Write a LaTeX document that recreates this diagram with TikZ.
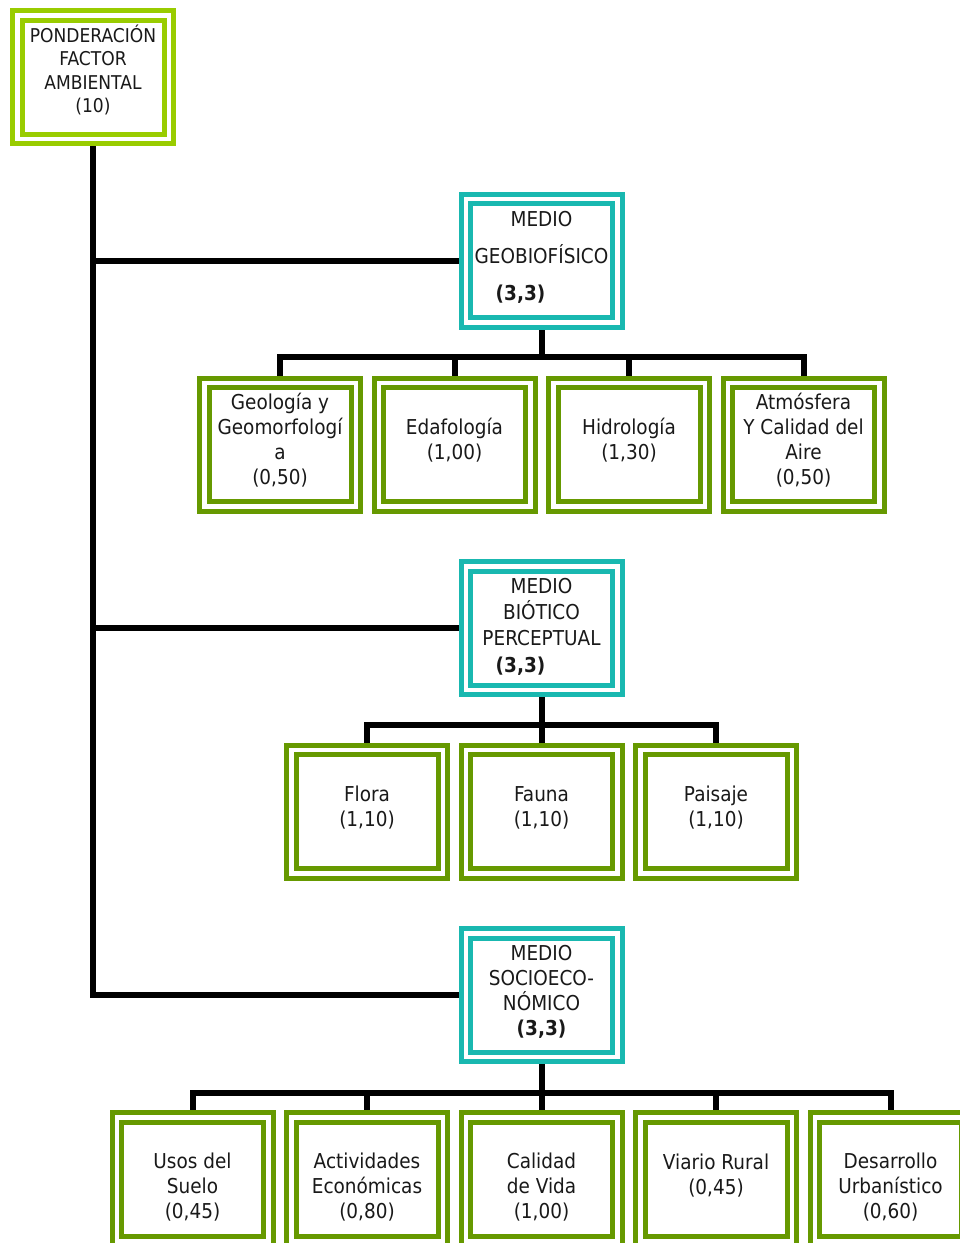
\documentclass[tikz,border=0pt]{standalone}
\usepackage{fontspec}
\setmainfont{DejaVu Sans}[FakeStretch=0.9]
\usetikzlibrary{backgrounds}
\definecolor{zzccqq}{rgb}{0.6,0.8,0.}
\definecolor{wwzzqq}{rgb}{0.4,0.6,0.}
\definecolor{rabybq}{rgb}{0.1,0.72,0.69}
\definecolor{rrrrrr}{rgb}{0.1,0.1,0.1}
\begin{document}
\begin{tikzpicture}[line join=miter,x=1pt,y=-1pt,
  caja/.style={draw=#1,fill=white,double=white,double distance=4.5pt,line width=5pt,minimum width=151.5pt,minimum height=123.5pt,inner sep=0pt},
  caja/.default=wwzzqq,
  texto/.style={align=center,inner sep=0pt,text=rrrrrr,font=\fontsize{20.5}{25}\selectfont},
  conector/.style={line width=6pt,color=black}]
\useasboundingbox (0,0) rectangle (960,1243);
% cajas
\node[caja=zzccqq] (ponderacion) at (93,77) {};
\node[caja=rabybq] (medioGeo) at (541.5,260.5) {};
\node[caja=rabybq] (medioBio) at (541.5,628) {};
\node[caja=rabybq] (medioSoc) at (541.5,995) {};
\node[caja] (geologia) at (280,444.5) {};
\node[caja] (edafologia) at (454.5,444.5) {};
\node[caja] (hidrologia) at (629,444.5) {};
\node[caja] (atmosfera) at (803.5,444.5) {};
\node[caja] (flora) at (367,811.5) {};
\node[caja] (fauna) at (541.5,811.5) {};
\node[caja] (paisaje) at (716,811.5) {};
\node[caja] (usos) at (192.5,1179) {};
\node[caja] (actividades) at (367,1179) {};
\node[caja] (calidad) at (541.5,1179) {};
\node[caja] (viario) at (716,1179) {};
\node[caja] (desarrollo) at (890.5,1179) {};
% textos
\node[texto,font=\fontsize{19}{23.3}\selectfont] (tPonderacion) at (93,70) {PONDERACIÓN\\FACTOR\\AMBIENTAL\\(10)};
\node[texto,font=\fontsize{20.5}{37}\selectfont] (tMedioGeo) at (541.5,257) {MEDIO\\GEOBIOFÍSICO\\\hspace*{-42pt}\textbf{(3,3)}};
\node[texto,font=\fontsize{20.5}{26.3}\selectfont] (tMedioBio) at (541.5,626.5) {MEDIO\\BIÓTICO\\PERCEPTUAL\\\hspace*{-42pt}\textbf{(3,3)}};
\node[texto] (tMedioSoc) at (541.5,991.5) {MEDIO\\SOCIOECO-\\NÓMICO\\\textbf{(3,3)}};
\node[texto] (tGeologia) at (280,440.5) {Geología y\\Geomorfologí\\a\\(0,50)};
\node[texto] (tEdafologia) at (454.5,440.5) {Edafología\\(1,00)};
\node[texto] (tHidrologia) at (629,440.5) {Hidrología\\(1,30)};
\node[texto] (tAtmosfera) at (803.5,440.5) {Atmósfera\\Y Calidad del\\Aire\\(0,50)};
\node[texto] (tFlora) at (367,808) {Flora\\(1,10)};
\node[texto] (tFauna) at (541.5,808) {Fauna\\(1,10)};
\node[texto] (tPaisaje) at (716,808) {Paisaje\\(1,10)};
\node[texto] (tUsos) at (192.5,1187.5) {Usos del\\Suelo\\(0,45)};
\node[texto] (tActividades) at (367,1187.5) {Actividades\\Económicas\\(0,80)};
\node[texto] (tCalidad) at (541.5,1187.5) {Calidad\\de Vida\\(1,00)};
\node[texto] (tViario) at (716,1175.5) {Viario Rural\\(0,45)};
\node[texto] (tDesarrollo) at (890.5,1187.5) {Desarrollo\\Urbanístico\\(0,60)};
% conectores
\coordinate (busGeo) at (541.5,357);
\coordinate (busBio) at (541.5,725);
\coordinate (busSoc) at (541.5,1092.5);
\begin{pgfonlayer}{background}
\draw[conector] (ponderacion.south) |- (medioGeo.west);
\draw[conector] (ponderacion.south) |- (medioBio.west);
\draw[conector] (ponderacion.south) |- (medioSoc.west);
\draw[conector] (medioGeo.south) -- (busGeo);
\draw[conector] (geologia.north) |- (busGeo) -| (atmosfera.north);
\draw[conector] (edafologia.north) -- (edafologia.north |- busGeo);
\draw[conector] (hidrologia.north) -- (hidrologia.north |- busGeo);
\draw[conector] (medioBio.south) -- (busBio);
\draw[conector] (flora.north) |- (busBio) -| (paisaje.north);
\draw[conector] (fauna.north) -- (fauna.north |- busBio);
\draw[conector] (medioSoc.south) -- (busSoc);
\draw[conector] (usos.north) |- (busSoc) -| (desarrollo.north);
\draw[conector] (actividades.north) -- (actividades.north |- busSoc);
\draw[conector] (calidad.north) -- (calidad.north |- busSoc);
\draw[conector] (viario.north) -- (viario.north |- busSoc);
\end{pgfonlayer}
\end{tikzpicture}
\end{document}
